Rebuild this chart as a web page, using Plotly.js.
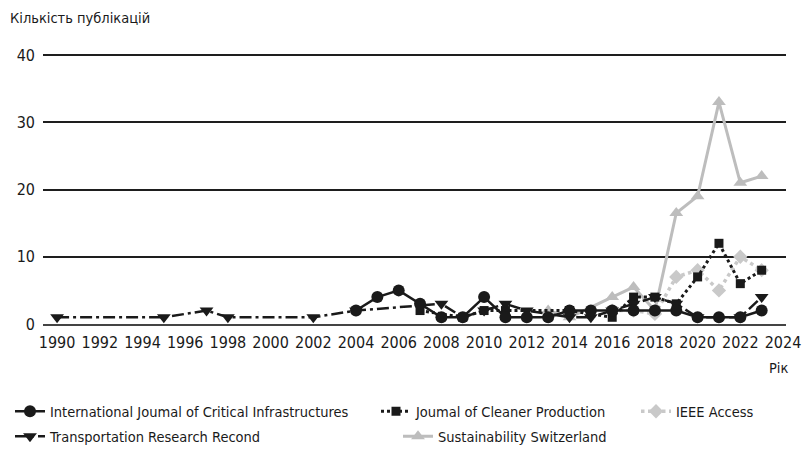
<!DOCTYPE html>
<html>
<head>
<meta charset="utf-8">
<script src="https://cdn.plot.ly/plotly-3.0.1.min.js"></script>
<style>html,body{margin:0;padding:0;background:#fff;}#chart{width:803px;height:449px;}</style>
</head>
<body>
<div id="chart"></div>
<script>
// Series data
const ijciYears = [2004,2005,2006,2007,2008,2009,2010,2011,2012,2013,2014,2015,2016,2017,2018,2019,2020,2021,2022,2023];
const ijciVals  = [2,4,5,3,1,1,4,1,1,1,2,2,2,2,2,2,1,1,1,2];

const trrYears = [1990,1995,1997,1998,2002,2004,2008,2009,2010,2011,2012,2014,2015,2016,2017,2018,2019,2020,2022,2023];
const trrVals  = [1,1,2,1,1,2,3,1,2,3,2,1,1,2,3,4,3,1,1,4];

const jcpYears = [2007,2009,2010,2011,2014,2016,2017,2018,2019,2020,2021,2022,2023];
const jcpVals  = [2,1,2,2,2,1,4,4,3,7,12,6,8];

const ieeeYears = [2016,2017,2018,2019,2020,2021,2022,2023];
const ieeeVals  = [2,2,1.5,7,8,5,10,8];

const ssYears = [2013,2014,2016,2017,2018,2019,2020,2021,2022,2023];
const ssVals  = [2,1,4,5.5,2,16.5,19,33,21,22];

const names = {
  ijci: "International Joumal of Critical Infrastructures",
  trr: "Transportation Research Recond",
  jcp: "Joumal of Cleaner Production",
  ieee: "IEEE Access",
  ss: "Sustainability Switzerland"
};
const xTicks = [1990,1992,1994,1996,1998,2000,2002,2004,2006,2008,2010,2012,2014,2016,2018,2020,2022,2024];
const yTicks = [0,10,20,30,40];

const FONT = "'DejaVu Sans Condensed', 'DejaVu Sans', sans-serif";
const BLACK = "#1a1a1a";
const GRAY = "#bdbdbd";
const LIGHT = "#c9c9c9";

const traces = [
  {x: ssYears, y: ssVals, name: names.ss, mode: "lines+markers", legend: "legend5",
   line: {color: GRAY, width: 3}, marker: {symbol: "triangle-up", size: 12, color: GRAY}},
  {x: ieeeYears, y: ieeeVals, name: names.ieee, mode: "lines+markers", legend: "legend3",
   line: {color: LIGHT, width: 3.5, dash: "dot"}, marker: {symbol: "diamond", size: 11, color: LIGHT}},
  {x: jcpYears, y: jcpVals, name: names.jcp, mode: "lines+markers", legend: "legend2",
   line: {color: BLACK, width: 3, dash: "dot"}, marker: {symbol: "square", size: 9, color: BLACK}},
  {x: trrYears, y: trrVals, name: names.trr, mode: "lines+markers", legend: "legend4",
   line: {color: BLACK, width: 2.5, dash: "12px,4px,3px,4px"}, marker: {symbol: "triangle-down", size: 12, color: BLACK}},
  {x: ijciYears, y: ijciVals, name: names.ijci, mode: "lines+markers", legend: "legend",
   line: {color: BLACK, width: 2.5}, marker: {symbol: "circle", size: 12, color: BLACK}}
];

const legendBase = {
  orientation: "v", xref: "paper", yref: "paper", xanchor: "left", yanchor: "middle",
  font: {family: FONT, size: 14.5, color: BLACK}, bgcolor: "rgba(0,0,0,0)",
  tracegroupgap: 0, itemwidth: 30
};
// plot area: x 43..786 (743px), y 52..324.5 (272.5px)
const px = v => (v - 43) / 743;
const py = v => (324.5 - v) / 272.5;

const layout = {
  width: 803, height: 449,
  margin: {l: 43, r: 17, t: 52, b: 124.5, autoexpand: false},
  paper_bgcolor: "#fff", plot_bgcolor: "#fff",
  showlegend: true,
  font: {family: FONT, size: 16, color: BLACK},
  xaxis: {
    range: [1989.34, 2024.14], tickvals: xTicks, ticktext: xTicks.map(String),
    showgrid: false, zeroline: false, showline: true, linecolor: "#444", linewidth: 2,
    ticks: "", tickfont: {family: FONT, size: 16, color: BLACK}, fixedrange: true, automargin: false,
    ticklabelstandoff: 3
  },
  yaxis: {
    range: [0, 40.45], tickvals: yTicks, ticktext: yTicks.map(String),
    showgrid: true, gridcolor: "#1e1e1e", gridwidth: 2, zeroline: false, showline: false,
    ticks: "", tickfont: {family: FONT, size: 16, color: BLACK}, fixedrange: true, automargin: false,
    ticklabelstandoff: 7
  },
  legend: Object.assign({}, legendBase, {x: px(10), y: py(412)}),
  legend4: Object.assign({}, legendBase, {x: px(10), y: py(437)}),
  legend2: Object.assign({}, legendBase, {x: px(376), y: py(412)}),
  legend3: Object.assign({}, legendBase, {x: px(636), y: py(412)}),
  legend5: Object.assign({}, legendBase, {x: px(398), y: py(437)}),
  annotations: [
    {text: "Кількість публікацій", xref: "paper", yref: "paper", x: px(8), y: py(18),
     xanchor: "left", yanchor: "middle", showarrow: false, font: {family: FONT, size: 14.5, color: BLACK}},
    {text: "Рік", xref: "paper", yref: "paper", x: px(790), y: py(369),
     xanchor: "right", yanchor: "middle", showarrow: false, font: {family: FONT, size: 14.5, color: BLACK}}
  ]
};

Plotly.newPlot("chart", traces, layout, {displayModeBar: false, staticPlot: true});
</script>
</body>
</html>
